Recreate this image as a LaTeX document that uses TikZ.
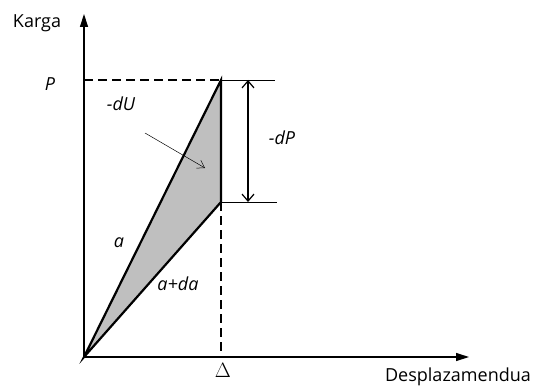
\documentclass[tikz,border=0pt]{standalone}
\usepackage{fontspec}
\setmainfont{Open Sans}
\usetikzlibrary{arrows.meta}
\begin{document}
\begin{tikzpicture}[x=1pt,y=-1pt,
  axis/.style={line width=1.3pt,-{Triangle[length=13pt,width=8pt]}},
  thickline/.style={line width=2.2pt},
  thinline/.style={line width=0.8pt},
  dashline/.style={line width=1.4pt,dash pattern=on 9pt off 5pt},
  lbl/.style={inner sep=0pt,font=\fontsize{18}{21}\selectfont},
  ilbl/.style={inner sep=0pt,font=\fontsize{18}{21}\selectfont\itshape}]
\useasboundingbox (0,0) rectangle (537,385);
\coordinate (O) at (84,357);
\coordinate (Ytop) at (84,14);
\coordinate (Xend) at (469,357);
\coordinate (T) at (221,80);
\coordinate (L) at (221,202);
\coordinate (D) at (221,357);
\coordinate (Pax) at (84,80);
\coordinate (E1) at (275,80);
\coordinate (E2) at (277,202);
\coordinate (A1) at (248,80);
\coordinate (A2) at (248,202);
\coordinate (S) at (145,133);
\coordinate (Q) at (205,168);
% fill
\fill[gray!50] (O) -- (T) -- (L) -- cycle;
% dashed
\draw[dashline] (Pax) -- (T);
\draw[dashline] (L) -- (D);
% axes
\draw[axis] (O) -- (Ytop);
\draw[axis] (O) -- (Xend);
% triangle
\draw[thickline,line join=miter] (O) -- (T) -- (L) -- cycle;
% extension lines
\draw[thinline] (T) -- (E1);
\draw[thinline] (L) -- (E2);
\draw[line width=1.2pt,{Straight Barb[length=7pt,width=12pt]}-{Straight Barb[length=7pt,width=12pt]}] (A1) -- (A2);
\draw[line width=0.5pt,-{Straight Barb[length=7pt,width=9pt]}] (S) -- (Q);
% labels
\node[lbl] (karga) at (37,23) {Karga};
\node[ilbl] (p) at (50,84) {P};
\node[ilbl] (du) at (121,104) {-dU};
\node[ilbl] (dp) at (282,138) {-dP};
\node[ilbl] (a) at (119,243) {a};
\node[ilbl] (ada) at (178,284) {a+da};
\node[inner sep=0pt,font=\fontsize{22}{24}\selectfont] (delta) at (223,370) {$\Delta$};
\node[lbl] (despl) at (458,377) {Desplazamendua};
\end{tikzpicture}
\end{document}
